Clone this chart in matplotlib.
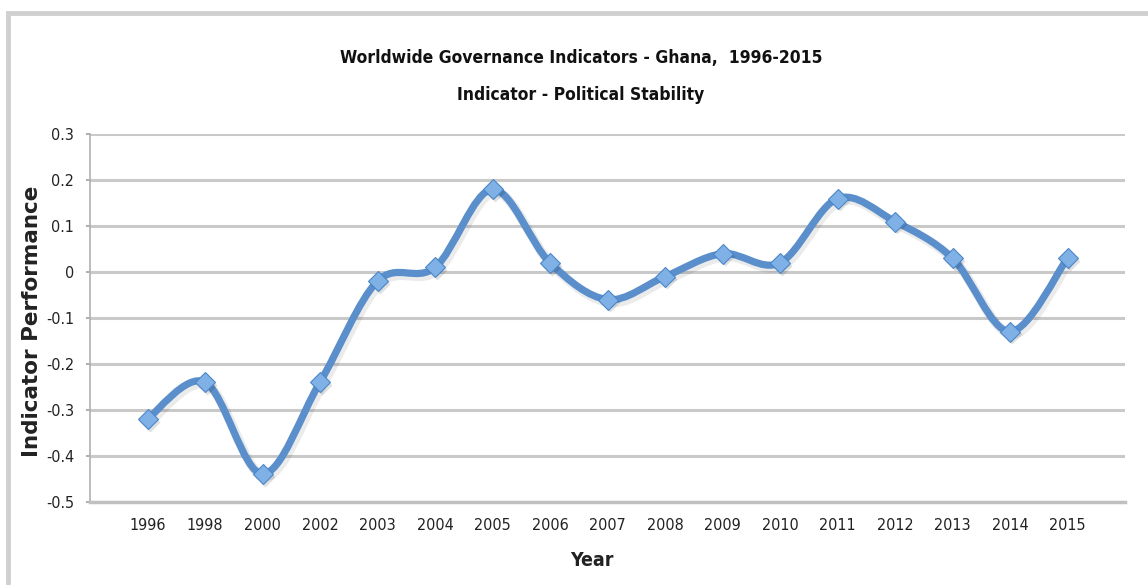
import numpy as np
import matplotlib
matplotlib.use("Agg")
import matplotlib.pyplot as plt
from matplotlib.path import Path
from matplotlib.patches import PathPatch, Rectangle

years = ["1996", "1998", "2000", "2002", "2003", "2004", "2005", "2006", "2007",
         "2008", "2009", "2010", "2011", "2012", "2013", "2014", "2015"]
political_stability = [-0.32, -0.24, -0.44, -0.24, -0.02, 0.01, 0.18, 0.02, -0.06,
                       -0.01, 0.04, 0.02, 0.16, 0.11, 0.03, -0.13, 0.03]
y_ticks = [0.3, 0.2, 0.1, 0, -0.1, -0.2, -0.3, -0.4, -0.5]
y_tick_labels = ["0.3", "0.2", "0.1", "0", "-0.1", "-0.2", "-0.3", "-0.4", "-0.5"]

title_lines = ["Worldwide Governance Indicators - Ghana,  1996-2015",
               "Indicator - Political Stability"]

line_color = "#5a8fcb"
marker_face = "#7fb0e6"
grid_color = "#c9c9c9"


def smooth_path(xs, ys, tension=1 / 6):
    """Cubic Bezier path through the points (Catmull-Rom style smoothing)."""
    pts = np.column_stack([xs, ys]).astype(float)
    n = len(pts)
    verts = [pts[0]]
    codes = [Path.MOVETO]
    for i in range(n - 1):
        p0 = pts[i - 1] if i > 0 else pts[i]
        p1 = pts[i]
        p2 = pts[i + 1]
        p3 = pts[i + 2] if i + 2 < n else pts[i + 1]
        c1 = p1 + (p2 - p0) * tension
        c2 = p2 - (p3 - p1) * tension
        verts += [c1, c2, p2]
        codes += [Path.CURVE4] * 3
    return Path(verts, codes)


fig = plt.figure(figsize=(11.48, 5.85), dpi=100)
W, H = 1148, 585
cond = dict(fontfamily="DejaVu Sans", fontstretch="condensed")

# chart-area frame
fig.patches.append(Rectangle((8 / W, -0.1), 1.2, (H - 12.5) / H + 0.1,
                             transform=fig.transFigure, fill=False,
                             edgecolor="#d0d0d0", linewidth=3.5))

left, right, top, bottom = 90, 1125, 134.3, 501.5
ax = fig.add_axes([left / W, (H - bottom) / H, (right - left) / W, (bottom - top) / H])

x = np.arange(len(years))
ax.set_xlim(-1, len(years))
ax.set_ylim(-0.5, 0.3)

for t in y_ticks:
    ax.axhline(t, color=grid_color, linewidth=2.2, zorder=1)

# soft shadow under the line
shadow = PathPatch(smooth_path(x + 0.04, np.array(political_stability) - 0.006),
                   facecolor="none", edgecolor="#000000", alpha=0.08,
                   linewidth=7, capstyle="round", joinstyle="round", zorder=2)
ax.add_patch(shadow)
curve = PathPatch(smooth_path(x, political_stability), facecolor="none",
                  edgecolor=line_color, linewidth=5.2, capstyle="round",
                  joinstyle="round", zorder=3)
ax.add_patch(curve)

ax.plot(x + 0.04, np.array(political_stability) - 0.006, linestyle="none",
        marker="D", markersize=10, markerfacecolor="#000000", markeredgecolor="none",
        alpha=0.12, zorder=4)
ax.plot(x, political_stability, linestyle="none", marker="D", markersize=10,
        markerfacecolor=marker_face, markeredgecolor="#4a86c8",
        markeredgewidth=0.8, zorder=5)

ax.set_xticks(x)
ax.set_xticklabels(years, fontsize=11.5, color="#222222", **cond)
ax.set_yticks(y_ticks)
ax.set_yticklabels(y_tick_labels, fontsize=11.5, color="#222222", **cond)
ax.tick_params(axis="x", length=0, pad=12)
ax.tick_params(axis="y", length=3, width=1.2, color="#a0a0a0", pad=8.5)

for side in ("top", "right"):
    ax.spines[side].set_visible(False)
ax.spines["left"].set_color("#b0b0b0")
ax.spines["left"].set_linewidth(1.2)
ax.spines["bottom"].set_color("#c0c0c0")
ax.spines["bottom"].set_linewidth(2.5)

fig.text(592 / W, 1 - 560 / H, "Year", ha="center", va="center", fontsize=14,
         fontweight="bold", color="#222222", **cond)
fig.text(32 / W, 1 - 321 / H, "Indicator Performance", ha="center", va="center",
         rotation=90, fontfamily="DejaVu Sans", fontsize=15.5, fontweight="bold",
         color="#222222")

fig.text(581 / W, 1 - 58 / H, title_lines[0], ha="center", va="center",
         fontsize=12.5, fontweight="bold", color="#111111", **cond)
fig.text(581 / W, 1 - 95 / H, title_lines[1], ha="center", va="center",
         fontsize=12.5, fontweight="bold", color="#111111", **cond)

fig.savefig("out.png", dpi=100, facecolor="white")
